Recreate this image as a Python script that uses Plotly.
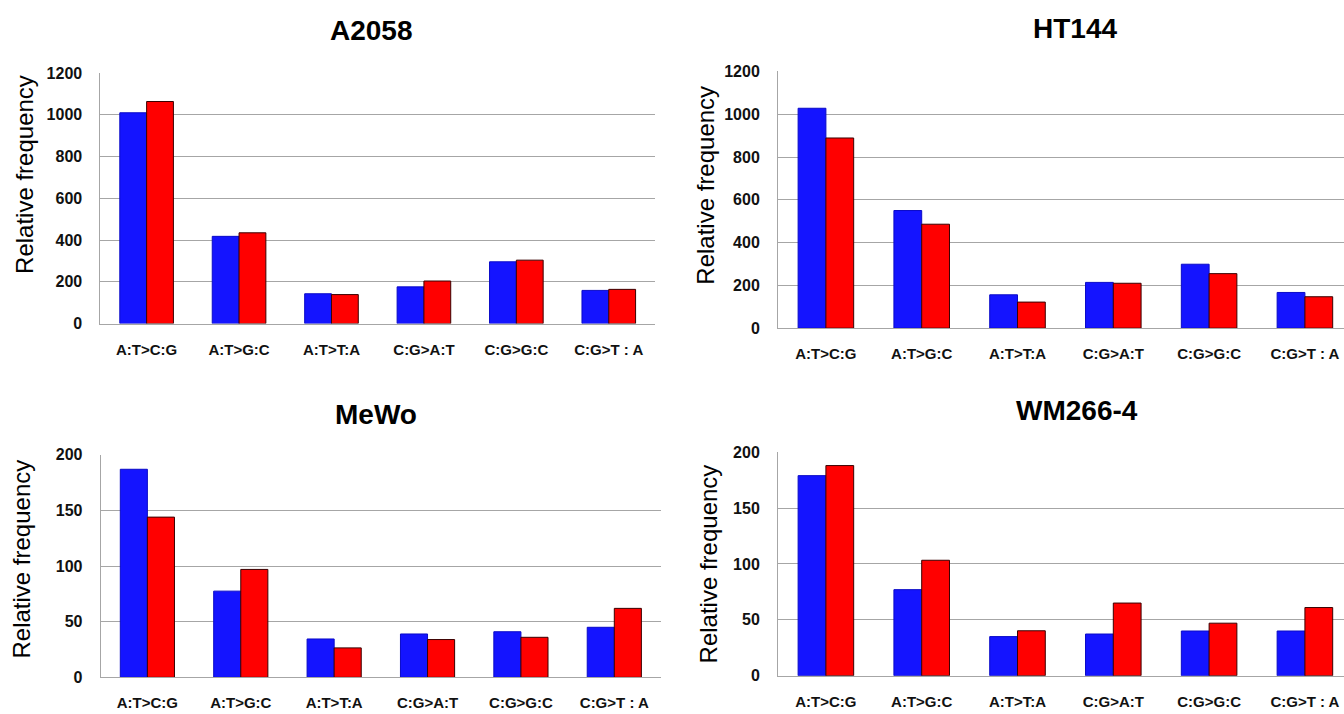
import plotly.graph_objects as go

W, H = 1344, 714

categories = ["A:T>C:G", "A:T>G:C", "A:T>T:A", "C:G>A:T", "C:G>G:C", "C:G>T : A"]

titles = ["A2058", "HT144", "MeWo", "WM266-4"]

a2058_blue = [1010, 418, 143, 176, 296, 159]
a2058_red = [1064, 435, 139, 204, 304, 164]
ht144_blue = [1028, 550, 156, 214, 299, 167]
ht144_red = [889, 486, 122, 210, 255, 147]
mewo_blue = [187, 77.5, 34.5, 39, 41, 45]
mewo_red = [144, 97, 26.5, 34, 36, 62]
wm266_blue = [179, 77, 35, 37.3, 40, 40]
wm266_red = [188, 103.3, 40.2, 65, 47, 61]

y_ticks_big = [0, 200, 400, 600, 800, 1000, 1200]
y_ticks_small = [0, 50, 100, 150, 200]

BLUE = "#1414FF"
RED = "#FF0000"
GRID = "#A6A6A6"

panels = [
    dict(blue=a2058_blue, red=a2058_red, x0=100.4, x1=655, ytop=66.7, ybot=323.3, ymax=1200, ticks=y_ticks_big, xr=[-0.5, 5.5]),
    dict(blue=ht144_blue, red=ht144_red, x0=778, x1=1344, ytop=65, ybot=328, ymax=1200, ticks=y_ticks_big, xr=[-0.5, 5.408]),
    dict(blue=mewo_blue, red=mewo_red, x0=100.7, x1=661, ytop=457.7, ybot=685.7, ymax=200, ticks=y_ticks_small, xr=[-0.5, 5.5]),
    dict(blue=wm266_blue, red=wm266_red, x0=778, x1=1344, ytop=455, ybot=684, ymax=200, ticks=y_ticks_small, xr=[-0.5, 5.408]),
]

fig = go.Figure()
layout = dict(width=W, height=H, margin=dict(l=0, r=0, t=0, b=0),
              paper_bgcolor="white", plot_bgcolor="white", showlegend=False,
              barmode="group", bargap=0.42, bargroupgap=0.0)

xtick_font = dict(family="Liberation Sans, Arial", size=15, color="#111", weight="bold")
ytick_font = dict(family="Liberation Sans, Arial", size=16, color="#111", weight="bold")

for i, p in enumerate(panels):
    n = "" if i == 0 else str(i + 1)
    xa, ya = "x" + n, "y" + n
    fig.add_trace(go.Bar(x=categories, y=p["blue"], xaxis=xa, yaxis=ya,
                         marker=dict(color=BLUE, line=dict(color="#0A0AC8", width=1))))
    fig.add_trace(go.Bar(x=categories, y=p["red"], xaxis=xa, yaxis=ya,
                         marker=dict(color=RED, line=dict(color="#3A0000", width=1))))
    layout["xaxis" + n] = dict(domain=[p["x0"] / W, p["x1"] / W], anchor=ya, range=p["xr"],
                               showgrid=False, showline=True, linecolor=GRID, linewidth=1,
                               ticks="", tickfont=xtick_font, ticklabelstandoff=12, fixedrange=True)
    layout["yaxis" + n] = dict(domain=[1 - p["ybot"] / H, 1 - p["ytop"] / H], anchor=xa,
                               range=[0, p["ymax"]], tickvals=p["ticks"],
                               showgrid=True, gridcolor=GRID, gridwidth=1,
                               showline=True, linecolor=GRID, linewidth=1, zeroline=False,
                               ticks="", tickfont=ytick_font, ticklabelstandoff=14, fixedrange=True)

annotations = []
title_pos = [(371, 23), (1075, 21), (376, 416), (1077, 412)]
for t, (tx, ty) in zip(titles, title_pos):
    annotations.append(dict(text="<b>%s</b>" % t, x=tx / W, y=1 - ty / H, xref="paper", yref="paper",
                            xanchor="center", yanchor="middle", showarrow=False,
                            font=dict(family="Liberation Sans, Arial", size=28, color="#000")))
ytitle_pos = [(25, 171), (706, 182), (22, 565), (708, 570)]
for (tx, ty) in ytitle_pos:
    annotations.append(dict(text="Relative frequency", x=tx / W, y=1 - ty / H, xref="paper", yref="paper",
                            xanchor="center", yanchor="middle", showarrow=False, textangle=-90,
                            font=dict(family="Liberation Sans, Arial", size=24, color="#000")))
layout["annotations"] = annotations

fig.update_layout(**layout)
fig.write_html("out.html")
